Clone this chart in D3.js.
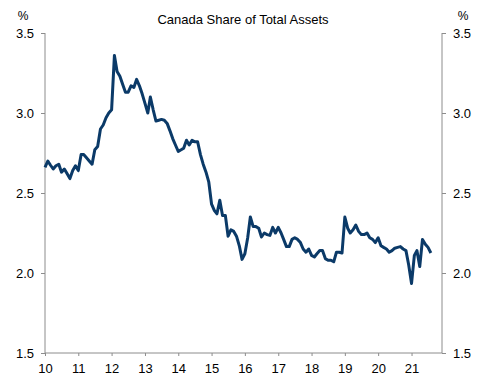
<!DOCTYPE html>
<html>
<head>
<meta charset="utf-8">
<script src="https://cdn.jsdelivr.net/npm/d3@7"></script>
<style>
  body { margin: 0; background: #fff; }
  svg text { font-family: "Liberation Sans", Arial, sans-serif; fill: #000; }
</style>
</head>
<body>
<svg id="chart" width="492" height="387"></svg>
<script>
// monthly values, Jan 2010 .. Aug 2021
const firstMonth = new Date(2010, 0, 1);
const shareValues = [
  2.66, 2.70, 2.675, 2.65, 2.67, 2.68, 2.63, 2.65, 2.62, 2.59, 2.64, 2.67,
  2.64, 2.74, 2.74, 2.72, 2.70, 2.68, 2.77, 2.79, 2.90, 2.925, 2.97, 3.00,
  3.02, 3.36, 3.26, 3.23, 3.18, 3.13, 3.13, 3.17, 3.16, 3.21, 3.17, 3.12,
  3.06, 3.00, 3.10, 3.02, 2.95, 2.955, 2.96, 2.955, 2.935, 2.89, 2.84, 2.80,
  2.76, 2.77, 2.78, 2.83, 2.80, 2.83, 2.82, 2.82, 2.74, 2.68, 2.63, 2.57,
  2.43, 2.39, 2.37, 2.455, 2.36, 2.36, 2.23, 2.27, 2.26, 2.23, 2.17, 2.085,
  2.12, 2.22, 2.35, 2.29, 2.29, 2.28, 2.225, 2.25, 2.24, 2.235, 2.285, 2.25,
  2.285, 2.25, 2.21, 2.165, 2.165, 2.21, 2.22, 2.21, 2.19, 2.15, 2.13, 2.15,
  2.11, 2.10, 2.12, 2.14, 2.14, 2.09, 2.08, 2.08, 2.07, 2.13, 2.13, 2.125,
  2.35, 2.28, 2.25, 2.27, 2.30, 2.26, 2.24, 2.24, 2.25, 2.22, 2.21, 2.19,
  2.22, 2.17, 2.16, 2.15, 2.13, 2.14, 2.155, 2.16, 2.165, 2.15, 2.14, 2.05,
  1.935, 2.11, 2.14, 2.04, 2.21, 2.18, 2.16, 2.125
];
const yTicks = [1.5, 2.0, 2.5, 3.0, 3.5];
const xTickYears = [2010, 2011, 2012, 2013, 2014, 2015, 2016, 2017, 2018, 2019, 2020, 2021];
const title = "Canada Share of Total Assets";

const svg = d3.select("#chart");
const margin = { left: 45, right: 50, top: 33, bottom: 34 };
const width = 492, height = 387;

const data = shareValues.map(function (v, i) {
  return { date: d3.timeMonth.offset(firstMonth, i), value: v };
});

const x = d3.scaleTime()
  .domain([firstMonth, new Date(2021, 11, 1)])
  .range([margin.left, width - margin.right]);
const y = d3.scaleLinear()
  .domain([1.5, 3.5])
  .range([height - margin.bottom, margin.top]);

const axisColor = "#8c8c8c";

const leftAxis = svg.append("g")
  .attr("transform", `translate(${margin.left},0)`)
  .call(d3.axisLeft(y).tickValues(yTicks).tickFormat(d3.format(".1f")).tickSize(4).tickPadding(7));
const rightAxis = svg.append("g")
  .attr("transform", `translate(${width - margin.right},0)`)
  .call(d3.axisRight(y).tickValues(yTicks).tickFormat(d3.format(".1f")).tickSize(4).tickPadding(7));
const bottomAxis = svg.append("g")
  .attr("transform", `translate(0,${height - margin.bottom})`)
  .call(d3.axisBottom(x)
    .tickValues(xTickYears.map(function (yr) { return new Date(yr, 0, 1); }))
    .tickFormat(d3.timeFormat("%y")).tickSize(3).tickPadding(8));

[leftAxis, rightAxis, bottomAxis].forEach(function (g) {
  g.selectAll("path.domain").attr("stroke", axisColor);
  g.selectAll(".tick line").attr("stroke", axisColor);
  g.selectAll("text").attr("font-size", 13).attr("font-family", "Liberation Sans, Arial, sans-serif");
});
// no end caps on the axis lines
leftAxis.select("path.domain").attr("d", `M0,${y(3.5)}V${y(1.5)}`);
rightAxis.select("path.domain").attr("d", `M0,${y(3.5)}V${y(1.5)}`);
bottomAxis.select("path.domain").attr("d", `M${margin.left},0H${width - margin.right}`);

svg.append("path")
  .datum(data)
  .attr("fill", "none")
  .attr("stroke", "#0b3a68")
  .attr("stroke-width", 3)
  .attr("stroke-linejoin", "round")
  .attr("d", d3.line().x(function (d) { return x(d.date); }).y(function (d) { return y(d.value); }));

svg.append("text")
  .attr("x", 243).attr("y", 24)
  .attr("text-anchor", "middle")
  .attr("font-size", 13)
  .text(title);
svg.append("text").attr("x", 23).attr("y", 20).attr("text-anchor", "middle").attr("font-size", 12).text("%");
svg.append("text").attr("x", 463).attr("y", 20).attr("text-anchor", "middle").attr("font-size", 12).text("%");
</script>
</body>
</html>
